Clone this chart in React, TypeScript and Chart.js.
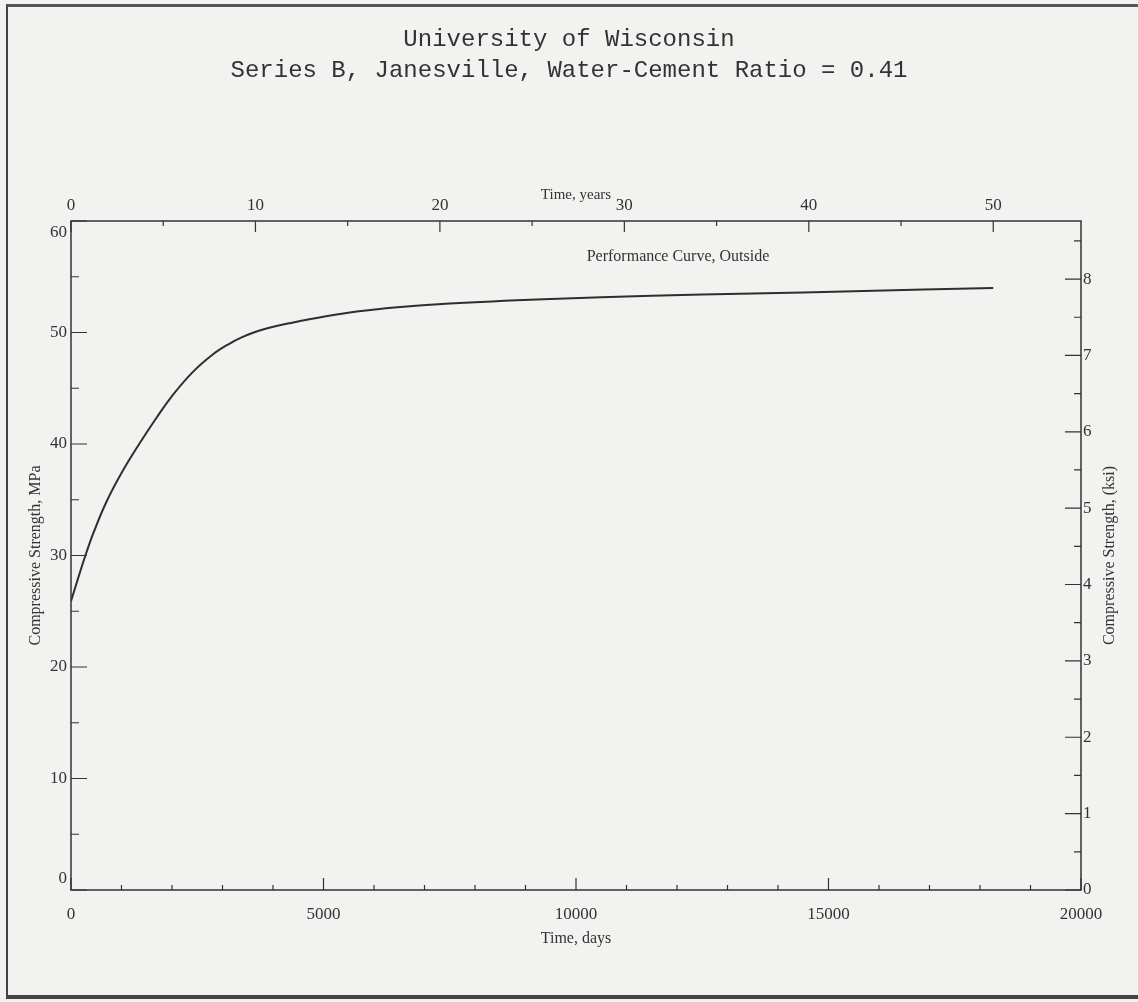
import React, { useEffect, useRef } from "react";
import { Chart, registerables } from "chart.js";

Chart.register(...registerables);

// ---- data ----
const titleLines = ["University of Wisconsin", "Series B, Janesville, Water-Cement Ratio = 0.41"];
const curveLabel = "Performance Curve, Outside";
const days = [0, 150, 300, 450, 700, 1000, 1350, 1700, 2000, 2400, 2800, 3100, 3400, 3750, 4400, 5050, 5700, 6400, 7500, 9500, 11500, 13500, 15500, 18262];
const strengthMPa = [25.9, 28.1, 30.2, 32.1, 34.8, 37.4, 40.0, 42.4, 44.3, 46.4, 48.0, 48.9, 49.6, 50.2, 50.9, 51.45, 51.9, 52.25, 52.6, 53.0, 53.3, 53.5, 53.7, 54.0];
const dayTicks = [0, 5000, 10000, 15000, 20000];
const yearTicks = [0, 10, 20, 30, 40, 50];
const mpaTicks = [0, 10, 20, 30, 40, 50, 60];
const ksiTicks = [0, 1, 2, 3, 4, 5, 6, 7, 8];
const dayMinorStep = 1000;
const yearMinorStep = 5;
const mpaMinorStep = 5;
const ksiMinorStep = 0.5;
const daysMax = 20000;
const yearsMax = 20000 / 365.25;
const mpaMax = 60;
const ksiMax = 8.76;
const labelPos = { x: 12020, y: 56.8 };

const INK = "#333333";
const SERIF = "'Liberation Serif', 'DejaVu Serif', serif";

const frameTicks = {
  id: "frameTicks",
  afterDraw(chart: any) {
    const { ctx, chartArea: a, scales } = chart;
    ctx.save();
    ctx.strokeStyle = INK;
    ctx.lineWidth = 1.5;
    ctx.strokeRect(a.left, a.top, a.right - a.left, a.bottom - a.top);

    const drawX = (scale: any, max: number, major: number[], minorStep: number, y: number, dir: number, majLen: number, minLen: number) => {
      ctx.beginPath();
      for (let v = 0; v <= max + 1e-9; v += minorStep) {
        const isMajor = major.some((m) => Math.abs(m - v) < 1e-6);
        const px = scale.getPixelForValue(v);
        const len = isMajor ? majLen : minLen;
        ctx.moveTo(px, y);
        ctx.lineTo(px, y + dir * len);
      }
      ctx.stroke();
    };
    const drawY = (scale: any, max: number, major: number[], minorStep: number, x: number, dir: number, majLen: number, minLen: number) => {
      ctx.beginPath();
      for (let v = 0; v <= max + 1e-9; v += minorStep) {
        const isMajor = major.some((m) => Math.abs(m - v) < 1e-6);
        const py = scale.getPixelForValue(v);
        const len = isMajor ? majLen : minLen;
        ctx.moveTo(x, py);
        ctx.lineTo(x + dir * len, py);
      }
      ctx.stroke();
    };
    ctx.lineWidth = 1.2;
    drawX(scales.x, daysMax, dayTicks, dayMinorStep, a.bottom, -1, 12, 5);
    drawX(scales.xTop, yearsMax, yearTicks, yearMinorStep, a.top, 1, 11, 5);
    drawY(scales.y, mpaMax, mpaTicks, mpaMinorStep, a.left, 1, 16, 8);
    drawY(scales.y2, ksiMax, ksiTicks, ksiMinorStep, a.right, -1, 16, 7);

    ctx.fillStyle = INK;
    // left tick labels (end labels nudged inward, as in the original)
    ctx.font = `17px ${SERIF}`;
    ctx.textAlign = "right";
    ctx.textBaseline = "middle";
    mpaTicks.forEach((v) => {
      let py = scales.y.getPixelForValue(v);
      if (v === mpaMax) py += 12;
      if (v === 0) py -= 11;
      ctx.fillText(String(v), a.left - 4, py);
    });

    // curve label
    ctx.font = `16px ${SERIF}`;
    ctx.textAlign = "center";
    ctx.fillText(curveLabel, scales.x.getPixelForValue(labelPos.x), scales.y.getPixelForValue(labelPos.y));

    // right axis title (reads bottom to top)
    ctx.save();
    ctx.translate(1110, (a.top + a.bottom) / 2);
    ctx.rotate(-Math.PI / 2);
    ctx.fillText("Compressive Strength, (ksi)", 0, 0);
    ctx.restore();
    ctx.restore();
  },
};

export default function App() {
  const ref = useRef<HTMLCanvasElement | null>(null);

  useEffect(() => {
    if (!ref.current) return;
    const tickFont = { family: SERIF, size: 17 };
    const titleFont = { family: SERIF, size: 16, lineHeight: 1.2 };
    const plain = (v: any) => String(v);
    const chart = new Chart(ref.current, {
      type: "line",
      data: {
        datasets: [
          {
            data: days.map((d, i) => ({ x: d, y: strengthMPa[i] })),
            borderColor: "#2e2e2e",
            borderWidth: 2,
            pointRadius: 0,
            tension: 0.4,
            xAxisID: "x",
            yAxisID: "y",
          } as any,
        ],
      },
      options: {
        animation: false,
        responsive: true,
        maintainAspectRatio: false,
        layout: { padding: 0 },
        plugins: {
          legend: { display: false },
          tooltip: { enabled: false },
          title: {
            display: true,
            text: titleLines,
            color: INK,
            font: { family: "'Liberation Mono', 'DejaVu Sans Mono', monospace", size: 24, lineHeight: 1.3, weight: "normal" },
            padding: { top: 24, bottom: 0 },
          },
        },
        scales: {
          x: {
            type: "linear",
            position: "bottom",
            min: 0,
            max: daysMax,
            afterFit: (s: any) => { s.height = 112; },
            afterBuildTicks: (s: any) => { s.ticks = dayTicks.map((v) => ({ value: v })); },
            grid: { display: false, drawTicks: false },
            border: { display: false },
            ticks: { font: tickFont, color: INK, padding: 14, maxRotation: 0, autoSkip: false, callback: plain },
            title: { display: true, text: "Time, days", color: INK, font: titleFont, padding: { top: 0, bottom: 54 } },
          },
          xTop: {
            type: "linear",
            position: "top",
            min: 0,
            max: yearsMax,
            afterFit: (s: any) => { s.height = 221 - 86.4; },
            afterBuildTicks: (s: any) => { s.ticks = yearTicks.map((v) => ({ value: v })); },
            grid: { display: false, drawTicks: false },
            border: { display: false },
            ticks: { font: tickFont, color: INK, padding: 5, maxRotation: 0, autoSkip: false, callback: plain },
            title: { display: true, text: "Time, years", color: INK, font: { family: SERIF, size: 15, lineHeight: 1.2 }, padding: { top: 100, bottom: 0 } },
          },
          y: {
            type: "linear",
            position: "left",
            min: 0,
            max: mpaMax,
            afterFit: (s: any) => { s.width = 71; },
            afterBuildTicks: (s: any) => { s.ticks = mpaTicks.map((v) => ({ value: v })); },
            grid: { display: false, drawTicks: false },
            border: { display: false },
            ticks: { display: false },
            title: { display: true, text: "Compressive Strength, MPa", color: INK, font: titleFont, padding: { top: 26, bottom: 0 } },
          },
          y2: {
            type: "linear",
            position: "right",
            min: 0,
            max: ksiMax,
            afterFit: (s: any) => { s.width = 57; },
            afterBuildTicks: (s: any) => { s.ticks = ksiTicks.map((v) => ({ value: v })); },
            grid: { display: false, drawTicks: false },
            border: { display: false },
            ticks: { font: tickFont, color: INK, padding: 2, autoSkip: false, callback: plain },
          },
        },
      } as any,
      plugins: [frameTicks],
    });
    return () => chart.destroy();
  }, []);

  return (
    <div style={{ position: "absolute", left: 0, top: 0, width: 1138, height: 1002, overflow: "hidden", background: "#f2f2f0" }}>
      <div style={{ position: "absolute", left: 6, top: 4, width: 1150, height: 988, borderTop: "3px solid #555", borderLeft: "2px solid #444", borderBottom: "4px solid #444" }} />
      <div style={{ position: "absolute", left: 0, top: 0, width: 1138, height: 1002 }}>
        <canvas ref={ref} />
      </div>
    </div>
  );
}
